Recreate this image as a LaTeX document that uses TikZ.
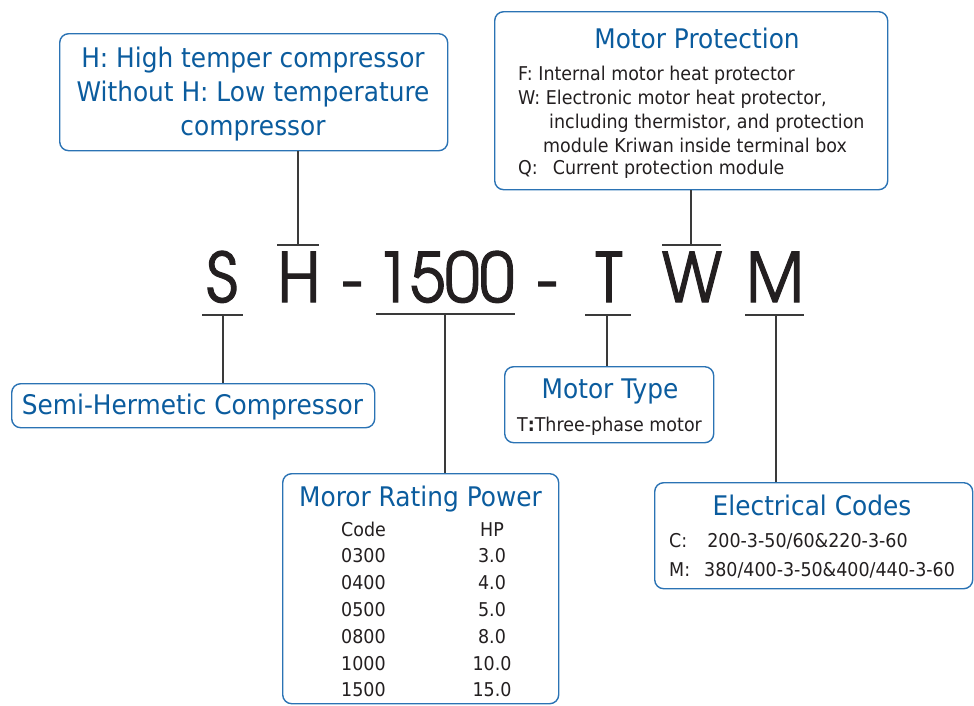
\documentclass[tikz,border=0pt]{standalone}
\usepackage{fontspec}
\setmainfont{DejaVu Sans}[FakeStretch=0.92]
\newfontfamily\gothicfont{texgyreadventor-regular.otf}[FakeStretch=0.92, FakeBold=1.5]

\definecolor{codeblue}{HTML}{0B5C9E}
\definecolor{boxblue}{HTML}{2B73B4}
\definecolor{inkgray}{HTML}{231F20}
\definecolor{leadgray}{HTML}{3A3A3A}

\tikzset{
  infobox/.style={draw=boxblue, line width=1.4pt, rounded corners=9pt, inner sep=0pt, anchor=north west},
  headtxt/.style={text=codeblue, font=\fontsize{27}{34}\selectfont, inner sep=0pt, anchor=base},
  bodytxt/.style={text=inkgray, font=\fontsize{19}{24}\selectfont, inner sep=0pt, anchor=base west},
  bigchar/.style={text=inkgray, font=\gothicfont\fontsize{68}{68}\selectfont, inner sep=0pt, anchor=base},
  lead/.style={draw=leadgray, line width=1.2pt},
}

\begin{document}
\begin{tikzpicture}[x=1pt, y=-1pt]
    \useasboundingbox (0,0) rectangle (974,705);

    % Model code
    \node[bigchar] (s) at (222,302) {S};
    \node[bigchar] (h) at (299,302) {H};
    \node[bigchar] (dash1) at (352,302) {-};
    \node[bigchar] (power) at (445,302) {1500};
    \node[bigchar] (dash2) at (547,302) {-};
    \node[bigchar] (t) at (609,302) {T};
    \node[bigchar] (w) at (692,302) {W};
    \node[bigchar] (m) at (775,302) {M};

    % Boxes
    \node[infobox, minimum width=388pt, minimum height=117pt] (hbox) at (59,33) {};
    \node[headtxt] (h1) at (253,67) {H: High temper compressor};
    \node[headtxt] (h2) at (253,101.5) {Without H: Low temperature};
    \node[headtxt] (h3) at (253,135) {compressor};

    \node[infobox, minimum width=393pt, minimum height=178pt] (protbox) at (494,11) {};
    \node[headtxt] (prottitle) at (697,48) {Motor Protection};
    \node[bodytxt] (pf) at (518,80) {F: Internal motor heat protector};
    \node[bodytxt] (pw) at (518,104) {W: Electronic motor heat protector,};
    \node[bodytxt] (pw2) at (549,128) {including thermistor, and protection};
    \node[bodytxt] (pw3) at (543,152) {module Kriwan inside terminal box};
    \node[bodytxt] (pq) at (518,174) {Q:\hspace{15pt}Current protection module};

    \node[infobox, minimum width=363pt, minimum height=44pt] (semibox) at (11,383) {};
    \node[headtxt] (semitxt) at (192.5,414) {Semi-Hermetic Compressor};

    \node[infobox, minimum width=276pt, minimum height=230pt] (powerbox) at (282,473) {};
    \node[headtxt] (powertitle) at (420.5,506) {Moror Rating Power};
    \node[bodytxt] (codehead) at (341,536) {Code};
    \node[bodytxt, anchor=base] (hphead) at (492,536) {HP};
    \foreach \code/\hp [count=\i] in {0300/3.0, 0400/4.0, 0500/5.0, 0800/8.0, 1000/10.0, 1500/15.0} {
        \node[bodytxt] (code\i) at (341,536+26.8*\i) {\code};
        \node[bodytxt, anchor=base] (hp\i) at (492,536+26.8*\i) {\hp};
    }

    \node[infobox, minimum width=209pt, minimum height=76pt] (typebox) at (504,366) {};
    \node[headtxt] (typetitle) at (610,398) {Motor Type};
    \node[bodytxt, anchor=base] (typetxt) at (609.5,431) {T\textbf{:}Three-phase motor};

    \node[infobox, minimum width=318pt, minimum height=106pt] (elecbox) at (654,482) {};
    \node[headtxt] (electitle) at (812,515) {Electrical Codes};
    \node[bodytxt] (elecc) at (669,547) {C:\hspace{20pt}200-3-50/60\&220-3-60};
    \node[bodytxt] (elecm) at (669,576) {M:\hspace{14pt}380/400-3-50\&400/440-3-60};

    % Bars and leads
    \coordinate (hbar) at (298,245);
    \coordinate (wbar) at (691,245);
    \coordinate (sbar) at (223,315);
    \coordinate (pbar) at (445,314);
    \coordinate (tbar) at (607,315);
    \coordinate (mbar) at (776,315);

    \draw[lead] ([xshift=-21pt]hbar) -- ([xshift=21pt]hbar);
    \draw[lead] ([xshift=-29pt]wbar) -- ([xshift=30pt]wbar);
    \draw[lead] ([xshift=-21pt]sbar) -- ([xshift=20pt]sbar);
    \draw[lead] ([xshift=-69pt]pbar) -- ([xshift=70pt]pbar);
    \draw[lead] ([xshift=-22pt]tbar) -- ([xshift=24pt]tbar);
    \draw[lead] ([xshift=-31pt]mbar) -- ([xshift=28pt]mbar);

    \draw[lead] (hbar) -- (hbar |- hbox.south);
    \draw[lead] (wbar) -- (wbar |- protbox.south);
    \draw[lead] (sbar) -- (sbar |- semibox.north);
    \draw[lead] (pbar) -- (pbar |- powerbox.north);
    \draw[lead] (tbar) -- (tbar |- typebox.north);
    \draw[lead] (mbar) -- (mbar |- elecbox.north);
\end{tikzpicture}
\end{document}
